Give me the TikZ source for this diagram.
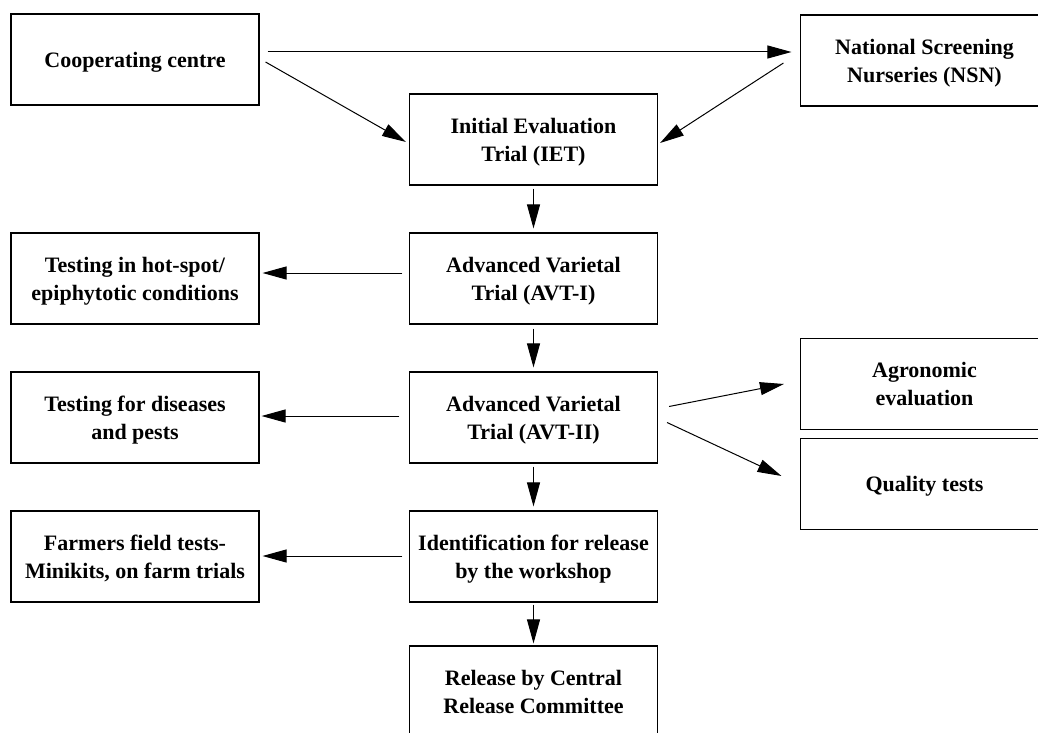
\documentclass[tikz,border=0pt]{standalone}
\usepackage{fontspec}
\setmainfont{Liberation Serif}
\usetikzlibrary{arrows.meta}
\begin{document}
\begin{tikzpicture}[x=1pt,y=-1pt,
  box/.style={draw=black, line width=1.1pt, minimum width=248pt, minimum height=91pt,
    inner sep=0pt, align=center, text depth=0pt,
    font=\fontsize{22}{28}\selectfont\bfseries},
  arr/.style={draw=black, line width=1pt, -{Triangle[length=24pt,width=13pt]}}]
\useasboundingbox (0,0) rectangle (1038,733);
\fill[white] (0,0) rectangle (1038,733);
\clip (0,0) rectangle (1038,733);
% nodes
\node[box] (coop)  at (135,59.5)   {Cooperating centre};
\node[box] (nsn)   at (924.5,60.5) {National Screening\\Nurseries (NSN)};
\node[box] (iet)   at (533.5,139.5) {Initial Evaluation\\Trial (IET)};
\node[box] (hot)   at (135,278.5)  {Testing in hot-spot/\\epiphytotic conditions};
\node[box] (avt1)  at (533.5,278.5) {Advanced Varietal\\Trial (AVT-I)};
\node[box] (dis)   at (135,417.5)  {Testing for diseases\\and pests};
\node[box] (avt2)  at (533.5,417.5) {Advanced Varietal\\Trial (AVT-II)};
\node[box] (agr)   at (924.5,384)  {Agronomic\\evaluation};
\node[box] (qual)  at (924.5,484)  {Quality tests};
\node[box] (farm)  at (135,556.5)  {Farmers field tests-\\Minikits, on farm trials};
\node[box] (ident) at (533.5,556.5) {Identification for release\\by the workshop};
\node[box] (rel)   at (533.5,691.5) {Release by Central\\Release Committee};
% connectors
\draw[arr] ([shift={(8,-7.5)}]coop.east) -- ([shift={(-8.5,-8.5)}]nsn.west);
\draw[arr] ([shift={(6,2.5)}]coop.east) -- ([shift={(-3,2.5)}]iet.west);
\draw[arr] ([shift={(-16.5,2.5)}]nsn.west) -- ([shift={(2,3.5)}]iet.east);
\draw[arr] ([shift={(0,3)}]iet.south) -- ([shift={(0,-4)}]avt1.north);
\draw[arr] ([shift={(-6.5,-5.5)}]avt1.west) -- ([shift={(3,-5.5)}]hot.east);
\draw[arr] ([shift={(0,4)}]avt1.south) -- ([shift={(0,-4)}]avt2.north);
\draw[arr] ([shift={(-9.5,-1.5)}]avt2.west) -- ([shift={(2,-1.5)}]dis.east);
\draw[arr] ([shift={(11,-11)}]avt2.east) -- ([shift={(-16,0)}]agr.west);
\draw[arr] ([shift={(9,5)}]avt2.east) -- ([shift={(-18.5,-8)}]qual.west);
\draw[arr] ([shift={(0,3)}]avt2.south) -- ([shift={(0,-4)}]ident.north);
\draw[arr] ([shift={(-6.5,-0.5)}]ident.west) -- ([shift={(3,-0.5)}]farm.east);
\draw[arr] ([shift={(0,2)}]ident.south) -- ([shift={(0,-2)}]rel.north);
\end{tikzpicture}
\end{document}
